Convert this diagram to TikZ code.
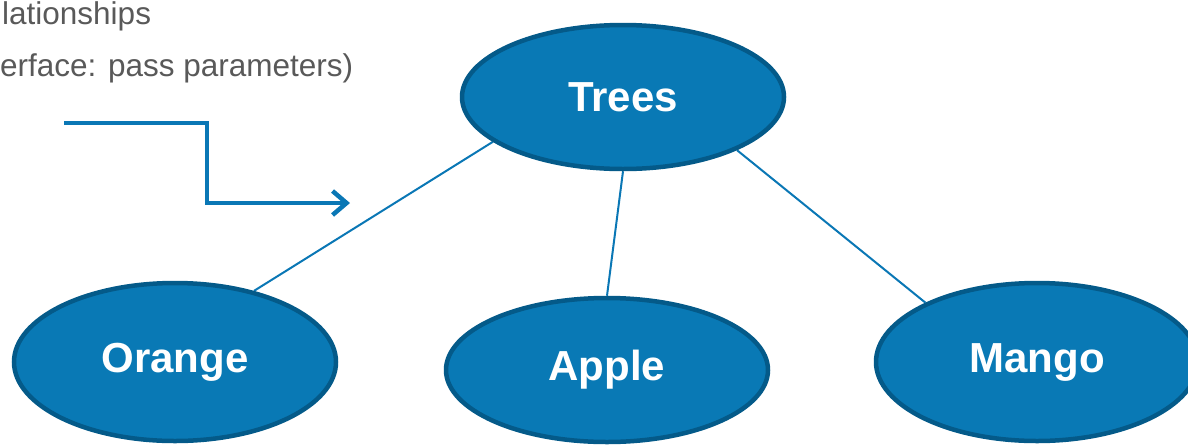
\documentclass[tikz,border=0pt]{standalone}
\usepackage{fontspec}
\setmainfont{Liberation Sans}
\usetikzlibrary{shapes.geometric,arrows.meta,backgrounds}
\definecolor{nodefill}{HTML}{0979B5}
\definecolor{nodeedge}{HTML}{045A89}
\definecolor{linkblue}{HTML}{0A77B5}
\definecolor{textgray}{HTML}{595959}
\tikzset{
  fruit/.style={ellipse, draw=nodeedge, line width=4.5pt, fill=nodefill,
    text=white, font=\bfseries\fontsize{42}{42}\selectfont, inner sep=0pt},
  link/.style={draw=linkblue, line width=2pt},
  note/.style={text=textgray, font=\fontsize{31.5}{31.5}\selectfont, anchor=base west, inner sep=0pt},
  flow/.style={draw=linkblue, line width=4.5pt, -{Straight Barb[length=14pt,width=24pt,line width=4.5pt]}}
}
\begin{document}
\begin{tikzpicture}[x=1pt,y=-1pt]
\useasboundingbox (0,0) rectangle (1188,445);
\begin{scope}
\clip (0,0) rectangle (1188,445);
\node[note] (l1) at (2,24.5) {lationships};
\node[note] (l2) at (0,76) {erface: pass parameters)};

\node[fruit, minimum width=322pt, minimum height=144pt] (trees) at (623,97) {Trees};
\node[fruit, minimum width=322pt, minimum height=158pt] (orange) at (175,362) {Orange};
\node[fruit, minimum width=322pt, minimum height=144pt] (apple) at (607,370) {Apple};
\node[fruit, minimum width=322pt, minimum height=158pt] (mango) at (1037,362) {Mango};

\begin{scope}[on background layer]
\draw[link] (trees.199) -- (orange.42);
\draw[link] (trees.270) -- (apple.90);
\draw[link] (trees.335) -- (mango.152);
\end{scope}

\coordinate (a0) at (64,123);
\coordinate (a1) at (207,123);
\coordinate (a2) at (207,203);
\coordinate (a3) at (350,203);
\draw[flow] (a0) -- (a1) -- (a2) -- (a3);
\end{scope}
\end{tikzpicture}
\end{document}
